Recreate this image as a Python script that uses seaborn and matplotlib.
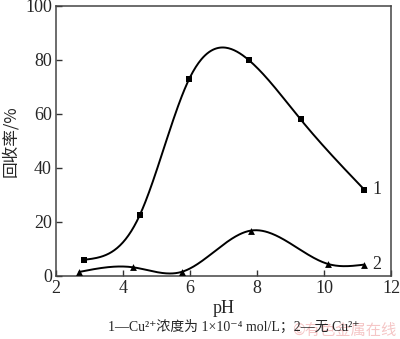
import numpy as np
import pandas as pd
import matplotlib
matplotlib.use("Agg")
import matplotlib.pyplot as plt
import seaborn as sns

# Data
ph1 = [2.85, 4.5, 5.97, 7.75, 9.3, 11.2]
rec1 = [6.0, 22.5, 72.8, 80.0, 58.0, 32.0]
ph2 = [2.7, 4.3, 5.75, 7.82, 10.13, 11.2]
rec2 = [1.5, 3.2, 1.5, 16.8, 4.4, 4.2]
xticks = [2, 4, 6, 8, 10, 12]
yticks = [0, 20, 40, 60, 80, 100]
series_labels = ["1", "2"]

sns.set_theme(style="white")
plt.rcParams['font.family'] = ['Liberation Serif', 'Noto Sans CJK SC', 'DejaVu Sans']


def natural_spline(x, y, n=300):
    x = np.asarray(x, float)
    y = np.asarray(y, float)
    k = len(x)
    h = np.diff(x)
    A = np.zeros((k, k))
    b = np.zeros(k)
    A[0, 0] = 1
    A[-1, -1] = 1
    for i in range(1, k - 1):
        A[i, i - 1] = h[i - 1]
        A[i, i] = 2 * (h[i - 1] + h[i])
        A[i, i + 1] = h[i]
        b[i] = 3 * ((y[i + 1] - y[i]) / h[i] - (y[i] - y[i - 1]) / h[i - 1])
    c = np.linalg.solve(A, b)
    xs = np.linspace(x[0], x[-1], n)
    ys = np.empty_like(xs)
    for j, xv in enumerate(xs):
        i = min(np.searchsorted(x, xv, side='right') - 1, k - 2)
        bi = (y[i + 1] - y[i]) / h[i] - h[i] * (2 * c[i] + c[i + 1]) / 3
        di = (c[i + 1] - c[i]) / (3 * h[i])
        t = xv - x[i]
        ys[j] = y[i] + bi * t + c[i] * t ** 2 + di * t ** 3
    return xs, ys


fig = plt.figure(figsize=(4.0, 3.39), dpi=100)
ax = fig.add_axes([0.14, 0.186, 0.8375, 0.7965])

for px, py, mk, ms in [(ph1, rec1, 's', 4.5), (ph2, rec2, '^', 4.5)]:
    sx, sy = natural_spline(px, py)
    sns.lineplot(x=sx, y=sy, ax=ax, color='black', linewidth=1.4, sort=False)
    sns.scatterplot(x=px, y=py, ax=ax, color='black', marker=mk, s=ms ** 2 + 4,
                    edgecolor='black', linewidth=0, zorder=3)

ax.text(ph1[-1] + 0.25, rec1[-1], series_labels[0], fontsize=13, va='center', ha='left')
ax.text(ph2[-1] + 0.25, rec2[-1], series_labels[1], fontsize=13, va='center', ha='left')

ax.set_xlim(2, 12)
ax.set_ylim(0, 100)
ax.set_xticks(xticks)
ax.set_yticks(yticks)
ax.set_xticklabels([str(t) for t in xticks], fontsize=13)
ax.set_yticklabels([str(t) for t in yticks], fontsize=13)
ax.tick_params(direction='in', length=4, width=1, color='#333333', pad=3,
               bottom=True, left=True)
for s in ax.spines.values():
    s.set_color('#444444')
    s.set_linewidth(1.1)

ax.set_xlabel('pH', fontsize=13, labelpad=2)
ax.set_ylabel('回收率/%', fontsize=12, labelpad=4,
              family=['Noto Sans CJK SC', 'DejaVu Sans'])

fig.text(0.585, 0.035, '1—Cu²⁺浓度为 1×10⁻⁴ mol/L；2—无 Cu²⁺',
         ha='center', va='center', fontsize=10,
         family=['Liberation Serif', 'Noto Sans CJK SC', 'DejaVu Sans'])
fig.text(0.99, 0.025, '©有色金属在线', ha='right', va='center', fontsize=11,
         color='#f5c6c6', family=['Noto Sans CJK SC', 'DejaVu Sans'], zorder=0)

fig.savefig('out.png', dpi=100)
